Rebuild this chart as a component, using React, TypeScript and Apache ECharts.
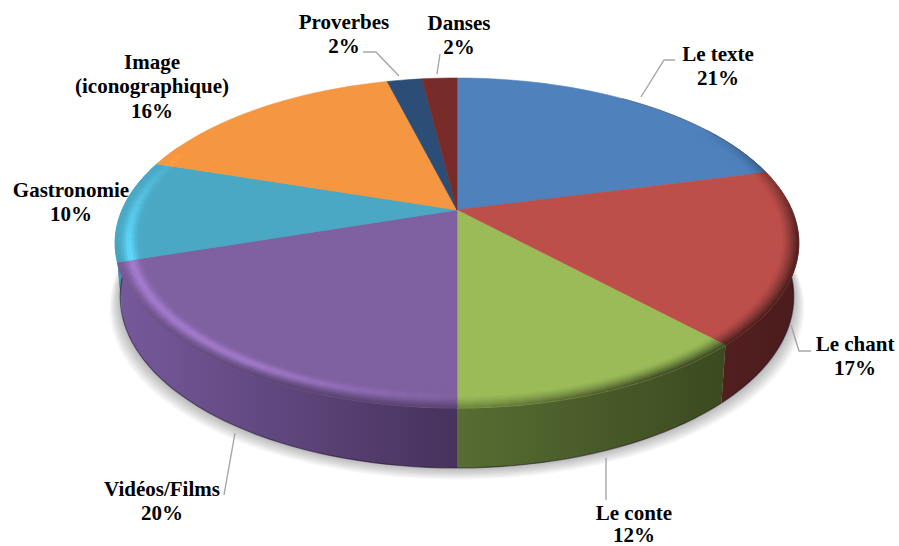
import React, { useEffect, useRef } from "react";
import * as echarts from "echarts";

const categories = ["Le texte", "Le chant", "Le conte", "Vidéos/Films", "Gastronomie", "Image\n(iconographique)", "Proverbes", "Danses"];
const shares = [21, 17, 12, 20, 10, 16, 2, 2];
const topColors = ["#4f81bd", "#bd4f4b", "#9bbb59", "#7f60a0", "#4aa8c4", "#f59640", "#2c4d75", "#772c2a"];
const wallLeft = ["#3a5f8c", "#521f1f", "#576d33", "#77599c", "#3f93aa", "#b56c30", "#223c5c", "#5a2120"];
const wallRight = ["#3a5f8c", "#4a1c1c", "#3c4a20", "#46325c", "#3f93aa", "#b56c30", "#223c5c", "#5a2120"];

// Perspective of the pie disc
const CX = 457, CY = 210, A = 335, B = 158.4, K = 0.2;
const BASE_SCALE = 0.985;

// Label layout: text centre, line height and leader line
const labelLayout = [
  { x: 718, y: 66, lh: 24.5, line: [[641, 97], [664, 60], [675, 60]] },
  { x: 855, y: 356, lh: 24.5, line: [[791, 325], [799, 351], [811, 351]] },
  { x: 634, y: 524, lh: 22, line: [[606, 458], [606, 500]] },
  { x: 162, y: 501, lh: 24.5, line: [[235, 433], [224, 495]] },
  { x: 71, y: 202, lh: 24.5, line: [] },
  { x: 152, y: 86, lh: 24.5, line: [] },
  { x: 344, y: 34, lh: 24.5, line: [[363, 52], [376, 52], [399, 76]] },
  { x: 459, y: 35, lh: 24.5, line: [[440, 54], [437, 74]] },
];

const rad = (d: number) => (d * Math.PI) / 180;
function rim(deg: number, r = 1) {
  const u = r * Math.sin(rad(deg));
  const v = -r * Math.cos(rad(deg));
  const w = 1 - K * v;
  return [CX + (A * u) / w, CY + (B * v) / w];
}
function base(deg: number) {
  const u = Math.sin(rad(deg));
  const v = -Math.cos(rad(deg));
  const w = 1 - K * v;
  return [CX + (BASE_SCALE * A * u) / w, CY + (B * v) / w + 52 + 8 * v];
}
function sweep(a0: number, a1: number, step = 2) {
  const out: number[] = [];
  const n = Math.max(1, Math.ceil((a1 - a0) / step));
  for (let i = 0; i <= n; i++) out.push(a0 + ((a1 - a0) * i) / n);
  return out;
}
function shade(h: string, light: number, dark: number) {
  const c = [1, 3, 5]
    .map((i) => parseInt(h.slice(i, i + 2), 16))
    .map((v) => Math.min(255, v * (1 + light)))
    .map((v) => Math.round(v * (1 - dark)));
  return `rgb(${c[0]},${c[1]},${c[2]})`;
}
function bump(x: number, a: number, b: number, c: number, d: number) {
  if (x <= a || x >= d) return 0;
  if (x < b) return (x - a) / (b - a);
  if (x > c) return (d - x) / (d - c);
  return 1;
}
const RINGS = 10;
const RING_START = 0.925;
const WALL_FROM = 78.5, WALL_TO = 281.5;
const SHADOW_LAYERS = 9;

function App() {
  const ref = useRef<HTMLDivElement>(null);
  useEffect(() => {
    document.body.style.margin = "0";
    const chart = echarts.init(ref.current!, undefined, { renderer: "svg" });
    const total = shares.reduce((a, b) => a + b, 0);
    const starts: number[] = [];
    shares.reduce((acc, v, i) => ((starts[i] = acc), acc + v), 0);

    const renderItem = (params: any, api: any) => {
      const i = params.dataIndex;
      const value = api.value(0);
      const a0 = (starts[i] / total) * 360;
      const a1 = ((starts[i] + value) / total) * 360;
      const children: any[] = [];

      if (i === 0) {
        for (let j = SHADOW_LAYERS; j >= 1; j--) {
          children.push({
            type: "polygon",
            z2: 0,
            shape: {
              points: sweep(60, 300, 4).map((d) => {
                const p = base(d);
                return [CX + (p[0] - CX) * (1 + 0.0035 * j), p[1] + 1.3 * j];
              }),
            },
            style: { fill: "rgba(0,0,0,0.032)" },
          });
        }
      }

      const w0 = Math.max(a0, WALL_FROM), w1 = Math.min(a1, WALL_TO);
      if (w1 > w0) {
        const angles = sweep(w0, w1);
        children.push({
          type: "polygon",
          z2: 1,
          shape: { points: [...angles.map((d) => rim(d)), ...angles.slice().reverse().map((d) => base(d))] },
          style: {
            fill: new echarts.graphic.LinearGradient(0, 0, 1, 0, [
              { offset: 0, color: wallLeft[i] },
              { offset: 1, color: wallRight[i] },
            ]),
          },
        });
        children.push({
          type: "polyline",
          z2: 1,
          shape: { points: angles.map((d) => base(d)) },
          style: { fill: "none", stroke: "rgba(20,10,30,0.5)", lineWidth: 1.2 },
        });
      }

      const arc = sweep(a0, a1);
      children.push({
        type: "polygon",
        z2: 2,
        shape: { points: [[CX, CY], ...arc.map((d) => rim(d))] },
        style: { fill: topColors[i], stroke: topColors[i], lineWidth: 0.6 },
      });

      const seg = sweep(a0, a1, 2.5);
      for (let s = 0; s < seg.length - 1; s++) {
        const mid = (seg[s] + seg[s + 1]) / 2;
        const lightAmt = 0.3 * bump(mid, 178, 212, 255, 295);
        const darkAmt =
          0.62 * bump(mid, 55, 100, 150, 178) + 0.3 * bump(mid, 150, 178, 205, 262);
        if (lightAmt === 0 && darkAmt === 0) continue;
        for (let r = 0; r < RINGS; r++) {
          const r0 = RING_START + ((1 - RING_START) * r) / RINGS;
          const r1 = RING_START + ((1 - RING_START) * (r + 1)) / RINGS;
          const rm = (r0 + r1) / 2;
          const peak = Math.exp(-Math.pow((rm - 0.962) / 0.017, 2));
          const fall = Math.pow(Math.max(0, (rm - 0.95) / 0.05), 1.4);
          const col = shade(topColors[i], lightAmt * peak, darkAmt * fall);
          children.push({
            type: "polygon",
            z2: 3,
            shape: {
              points: [
                rim(seg[s], r0),
                rim(seg[s + 1], r0),
                rim(seg[s + 1], r1),
                rim(seg[s], r1),
              ],
            },
            style: { fill: col, stroke: col, lineWidth: 0.7 },
          });
        }
      }

      // Faint edge along the back right of the disc
      const e0 = Math.max(a0, 35), e1 = Math.min(a1, 78);
      if (e1 > e0) {
        children.push({
          type: "polyline",
          z2: 3,
          shape: { points: sweep(e0, e1).map((d) => rim(d)) },
          style: { fill: "none", stroke: "rgba(50,50,50,0.35)", lineWidth: 1 },
        });
      }

      const lay = labelLayout[i];
      if (lay.line.length) {
        children.push({
          type: "polyline",
          z2: 4,
          shape: { points: lay.line },
          style: { fill: "none", stroke: "#a6a6a6", lineWidth: 1.4 },
        });
      }
      children.push({
        type: "text",
        z2: 5,
        style: {
          text: `${categories[i]}\n${value}%`,
          x: lay.x,
          y: lay.y,
          align: "center",
          verticalAlign: "middle",
          fill: "#000",
          font: 'bold 21px "Liberation Serif"',
          lineHeight: lay.lh,
        },
      });
      return { type: "group", children };
    };

    chart.setOption({
      animation: false,
      backgroundColor: "#ffffff",
      series: [
        {
          type: "custom",
          coordinateSystem: "none",
          silent: true,
          renderItem,
          data: shares.map((v) => [v]),
        },
      ],
    });
    return () => chart.dispose();
  }, []);
  return <div ref={ref} style={{ width: 899, height: 546 }} />;
}

export default App;
